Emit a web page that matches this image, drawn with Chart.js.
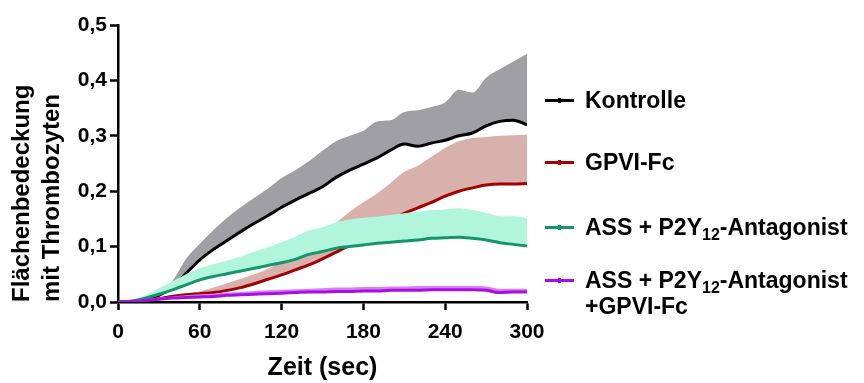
<!DOCTYPE html>
<html><head><meta charset="utf-8">
<script src="https://cdn.jsdelivr.net/npm/chart.js@4.4.1/dist/chart.umd.min.js"></script>
<style>
html,body{margin:0;padding:0;background:#fff;}
#wrap{position:relative;width:864px;height:383px;overflow:hidden;}
#c{position:absolute;left:0;top:0;}
.item{position:absolute;left:545px;font-family:'Liberation Sans',Arial,sans-serif;font-weight:bold;font-size:23px;color:#000;}
.item .sw{position:absolute;left:0;top:12px;width:29px;height:3px;}
.item .dot{position:absolute;left:13px;top:11px;width:3px;height:5px;}
.item .tx{position:absolute;left:40px;top:0;white-space:nowrap;line-height:26px;}
.item sub{font-size:16px;line-height:0;vertical-align:-5px;}
</style></head>
<body>
<div id="wrap">
<canvas id="c" width="864" height="383"></canvas>
<div class="item" style="top:87px"><div class="sw" style="background:#000"></div><div class="dot" style="background:#000"></div><div class="tx">Kontrolle</div></div>
<div class="item" style="top:149px"><div class="sw" style="background:#a50000"></div><div class="dot" style="background:#a50000"></div><div class="tx">GPVI-Fc</div></div>
<div class="item" style="top:214px"><div class="sw" style="background:#14966c"></div><div class="dot" style="background:#14966c"></div><div class="tx">ASS + P2Y<sub>12</sub>-Antagonist</div></div>
<div class="item" style="top:267px"><div class="sw" style="background:#a80ee0"></div><div class="dot" style="background:#a80ee0"></div><div class="tx">ASS + P2Y<sub>12</sub>-Antagonist<br>+GPVI-Fc</div></div>
</div>
<script>
// ---- data ----
const times = [0,10,20,30,40,50,60,70,80,90,100,110,120,130,140,150,160,170,180,190,200,210,220,230,240,250,260,270,280,290,300];
const kontrolleMean = [0,0,0.003,0.012,0.027,0.052,0.076,0.095,0.111,0.127,0.142,0.156,0.171,0.184,0.196,0.208,0.225,0.238,0.249,0.260,0.274,0.285,0.281,0.287,0.292,0.300,0.305,0.318,0.326,0.328,0.320];
const kontrolleUpper = [0,0,0.003,0.013,0.038,0.078,0.105,0.130,0.152,0.171,0.188,0.205,0.224,0.238,0.254,0.273,0.290,0.300,0.309,0.326,0.328,0.343,0.346,0.352,0.360,0.383,0.378,0.405,0.420,0.434,0.448];
const gpviMean = [0,0,0.002,0.006,0.010,0.013,0.015,0.017,0.021,0.026,0.033,0.041,0.049,0.058,0.067,0.078,0.090,0.103,0.120,0.135,0.148,0.160,0.170,0.180,0.191,0.200,0.206,0.211,0.213,0.213,0.214];
const gpviUpper = [0,0,0.003,0.008,0.013,0.016,0.019,0.026,0.034,0.042,0.050,0.060,0.072,0.088,0.108,0.125,0.143,0.163,0.180,0.196,0.215,0.235,0.246,0.262,0.278,0.290,0.296,0.298,0.300,0.301,0.302];
const assMean = [0,0.002,0.007,0.014,0.022,0.031,0.040,0.046,0.051,0.056,0.061,0.066,0.071,0.077,0.086,0.091,0.097,0.100,0.103,0.106,0.108,0.110,0.112,0.115,0.116,0.117,0.115,0.112,0.107,0.104,0.101];
const assUpper = [0,0.003,0.012,0.025,0.037,0.050,0.061,0.068,0.075,0.082,0.091,0.099,0.108,0.118,0.129,0.135,0.144,0.149,0.152,0.154,0.157,0.160,0.163,0.166,0.167,0.169,0.166,0.161,0.155,0.155,0.151];
const comboMean = [0,0.001,0.003,0.005,0.007,0.008,0.009,0.010,0.012,0.013,0.014,0.015,0.016,0.017,0.018,0.018,0.019,0.019,0.020,0.020,0.021,0.021,0.021,0.022,0.022,0.022,0.022,0.021,0.017,0.018,0.018];
const comboUpper = [0,0.002,0.005,0.008,0.010,0.012,0.014,0.015,0.017,0.018,0.020,0.021,0.022,0.023,0.024,0.025,0.026,0.026,0.027,0.027,0.028,0.028,0.029,0.029,0.029,0.029,0.029,0.028,0.024,0.024,0.024];
const xTicks = [0,60,120,180,240,300];
const yTickLabels = ['0,0','0,1','0,2','0,3','0,4','0,5'];

const pts = arr => arr.map((v,i) => ({x: times[i], y: v}));
function meanDs(label, arr, color){
  return {label, data: pts(arr), borderColor: color, backgroundColor: color, borderWidth: 3,
    pointRadius: 0, fill: false, cubicInterpolationMode: 'monotone'};
}
function bandDs(label, arr, color){
  return {label, data: pts(arr), borderColor: 'rgba(0,0,0,0)', backgroundColor: color, borderWidth: 0,
    pointRadius: 0, fill: '-1', cubicInterpolationMode: 'monotone'};
}

Chart.defaults.font.family = "'Liberation Sans', Arial, sans-serif";
Chart.defaults.font.weight = 'bold';
Chart.defaults.color = '#000';

const axisGrid = {display: true, drawOnChartArea: false, drawTicks: true, tickLength: 8, tickWidth: 2.5, tickColor: '#000'};
const axisBorder = {display: true, color: '#000', width: 2.5};

new Chart(document.getElementById('c'), {
  type: 'line',
  data: {
    datasets: [
      meanDs('ASS + P2Y12-Antagonist +GPVI-Fc', comboMean, '#a80ee0'),
      bandDs('ASS + P2Y12-Antagonist +GPVI-Fc SD', comboUpper, '#d87ef2'),
      meanDs('ASS + P2Y12-Antagonist', assMean, '#14966c'),
      bandDs('ASS + P2Y12-Antagonist SD', assUpper, '#b2f5dd'),
      meanDs('GPVI-Fc', gpviMean, '#a50000'),
      bandDs('GPVI-Fc SD', gpviUpper, '#d8b1ad'),
      meanDs('Kontrolle', kontrolleMean, '#000000'),
      bandDs('Kontrolle SD', kontrolleUpper, '#a0a0a4')
    ]
  },
  options: {
    responsive: false,
    animation: false,
    devicePixelRatio: 1,
    layout: {padding: {left: 0, top: 25, right: 337, bottom: 0}},
    plugins: {legend: {display: false}, tooltip: {enabled: false}},
    scales: {
      x: {
        type: 'linear', min: 0, max: 300,
        afterBuildTicks: s => { s.ticks = xTicks.map(v => ({value: v})); },
        ticks: {font: {size: 21, weight: 'bold'}, color: '#000', padding: 10, maxRotation: 0},
        grid: axisGrid, border: axisBorder,
        title: {display: true, text: 'Zeit (sec)', color: '#000', font: {size: 25, weight: 'bold'}, padding: {top: 0, bottom: 0}},
        afterFit: s => { s.height = 81; }
      },
      y: {
        type: 'linear', min: 0, max: 0.5,
        ticks: {stepSize: 0.1, font: {size: 21, weight: 'bold'}, color: '#000', padding: 3,
          callback: (v) => yTickLabels[Math.round(v * 10)]},
        grid: axisGrid, border: axisBorder,
        title: {display: true, text: ['Flächenbedeckung', 'mit Thrombozyten'], align: 'start', color: '#000',
          font: {size: 24, weight: 'bold', lineHeight: 1.25}, padding: {top: 7, bottom: 0}},
        afterFit: s => { s.width = 118; }
      }
    }
  }
});
</script>
</body></html>
